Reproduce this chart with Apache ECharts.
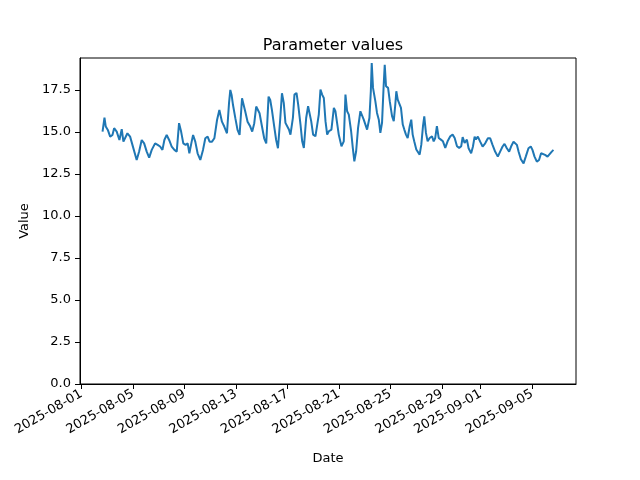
<!DOCTYPE html>
<html>
<head>
<meta charset="utf-8">
<script src="https://cdn.jsdelivr.net/npm/echarts@6/dist/echarts.min.js"></script>
<style>html,body{margin:0;padding:0;background:#fff}#c{width:640px;height:480px}</style>
</head>
<body>
<div id="c"></div>
<script>
// Days since 2025-08-01 00:00 (local time) of each reading
const dayOffsets = [
1.64,1.79,1.89,2.05,2.23,2.41,2.54,2.74,2.95,3.13,3.26,3.57,3.78,3.96,4.29,4.48,4.68,4.87,5.07,5.26,
5.46,5.72,5.92,6.11,6.29,6.44,6.62,6.81,7.01,7.22,7.40,7.58,7.74,7.91,8.09,8.25,8.38,8.56,8.67,8.84,
9.02,9.23,9.44,9.62,9.80,9.95,10.14,10.32,10.53,10.71,10.91,11.09,11.30,11.46,11.56,11.66,11.77,11.95,12.12,12.28,
12.47,12.59,12.72,12.90,13.11,13.26,13.42,13.57,13.71,13.83,14.02,14.19,14.35,14.53,14.66,14.79,14.97,15.12,15.26,15.43,
15.57,15.71,15.84,15.98,16.11,16.23,16.42,16.54,16.70,16.83,17.01,17.14,17.27,17.45,17.60,17.71,17.84,17.99,18.17,18.30,
18.43,18.56,18.69,18.82,18.95,19.08,19.21,19.41,19.60,19.72,19.85,19.98,20.19,20.37,20.50,20.63,20.76,20.94,21.07,21.19,
21.33,21.48,21.66,21.79,21.92,22.05,22.18,22.36,22.47,22.54,22.64,22.82,22.95,23.09,23.21,23.34,23.47,23.55,23.65,23.81,
23.94,24.12,24.25,24.37,24.45,24.56,24.68,24.81,24.95,25.07,25.20,25.33,25.49,25.61,25.72,25.84,26.00,26.13,26.26,26.39,
26.52,26.62,26.75,26.88,27.04,27.22,27.35,27.47,27.60,27.74,27.91,28.07,28.25,28.43,28.64,28.82,28.98,29.16,29.33,29.49,
29.60,29.75,29.93,30.06,30.26,30.40,30.53,30.63,30.78,30.96,31.15,31.35,31.56,31.74,31.92,32.12,32.33,32.51,32.70,32.85,
33.03,33.21,33.36,33.55,33.67,33.81,33.94,34.12,34.33,34.50,34.71,34.89,35.02,35.18,35.36,35.53,35.69,35.82,36.00,36.19,
36.34,36.52,36.65
];
const values = [
15.02,15.85,15.32,15.12,14.72,14.82,15.22,15.02,14.52,15.16,14.42,14.92,14.72,14.23,13.33,13.83,14.52,14.32,13.83,13.47,
13.93,14.32,14.23,14.13,13.93,14.52,14.82,14.52,14.13,13.93,13.83,15.52,15.02,14.32,14.23,14.32,13.73,14.42,14.82,14.42,
13.73,13.33,13.93,14.62,14.72,14.42,14.42,14.62,15.71,16.31,15.61,15.32,14.92,16.71,17.50,17.20,16.60,15.82,15.12,14.82,
17.00,16.90,16.21,15.61,15.32,15.02,15.52,16.51,16.51,16.11,15.32,14.62,14.32,17.10,16.90,16.31,15.32,14.52,14.03,15.71,
17.30,16.73,15.54,15.44,15.14,14.84,15.83,17.22,17.32,16.63,15.44,14.44,14.05,15.83,16.53,16.43,15.64,14.84,14.74,14.84,
16.03,17.52,17.22,17.02,15.64,14.84,15.04,15.14,16.43,16.23,15.54,14.84,14.15,14.44,17.22,16.23,16.03,15.04,14.05,13.25,
13.85,15.24,16.23,16.13,15.73,15.64,15.14,15.83,17.42,19.10,17.62,16.83,16.13,15.73,14.94,15.54,17.82,19.00,17.72,17.62,
16.83,15.93,15.64,16.63,17.42,16.92,17.02,16.43,15.44,15.14,14.84,14.64,15.34,15.73,14.84,14.44,13.95,14.05,13.65,14.24,
15.34,15.93,14.94,14.44,14.64,14.74,14.44,14.64,15.34,14.64,14.54,14.44,14.05,14.44,14.74,14.84,14.64,14.15,14.05,14.15,
14.69,14.35,14.54,14.03,13.73,14.13,14.72,14.56,14.72,14.42,14.13,14.32,14.62,14.62,14.23,13.83,13.53,13.83,14.13,14.29,
14.03,13.83,14.13,14.42,14.52,14.23,13.83,13.37,13.13,13.53,14.03,14.13,13.93,13.53,13.23,13.33,13.73,13.83,13.63,13.53,
13.57,13.83,13.93
];
const xTickLabels = ['2025-08-01','2025-08-05','2025-08-09','2025-08-13','2025-08-17','2025-08-21','2025-08-25','2025-08-29','2025-09-01','2025-09-05'];
const yTicks = [0,2.5,5,7.5,10,12.5,15,17.5];

const DAY = 86400000;
const base = new Date(2025, 7, 1).getTime();
const times = dayOffsets.map(d => base + d * DAY);
const seriesData = times.map((t, i) => [t, values[i]]);
const xTickValues = xTickLabels.map(s => { const p = s.split('-').map(Number); return new Date(p[0], p[1]-1, p[2]).getTime(); });
const span = times[times.length-1] - times[0];
const xMin = times[0] - 0.05 * span;
const xMax = times[times.length-1] + 0.05 * span;
const vMin = Math.min(...values), vMax = Math.max(...values);
const yMax = vMax + 0.05 * (vMax - vMin);

function pad(n){ return (n<10?'0':'')+n; }
function fmtDate(v){ const d = new Date(v); return d.getFullYear()+'-'+pad(d.getMonth()+1)+'-'+pad(d.getDate()); }

const FONT = 'DejaVu Sans';
const chart = echarts.init(document.getElementById('c'), null, {renderer:'canvas'});
chart.setOption({
  animation: false,
  backgroundColor: '#ffffff',
  textStyle: {fontFamily: FONT},
  title: {
    text: 'Parameter values',
    left: 328, top: 33, textAlign: 'center',
    textStyle: {fontFamily: FONT, fontSize: 16, fontWeight: 'normal', color: '#000'}
  },
  grid: {left: 80, right: 64, top: 58, bottom: 96, show: true, borderColor: '#000', borderWidth: 1, containLabel: false},
  xAxis: {
    type: 'value', min: xMin, max: xMax, scale: true,
    name: 'Date', nameLocation: 'middle', nameGap: 68,
    nameTextStyle: {fontFamily: FONT, fontSize: 13, color: '#000'},
    axisLine: {show: true, onZero: false, lineStyle: {color: '#000', width: 1}},
    axisTick: {show: true, inside: false, length: 5, lineStyle: {color: '#000'}, customValues: xTickValues},
    axisLabel: {customValues: xTickValues, formatter: fmtDate, rotate: 30, color: '#000', fontSize: 13, fontFamily: FONT, margin: 9, hideOverlap: false},
    splitLine: {show: false}, minorTick: {show: false}
  },
  yAxis: {
    type: 'value', min: 0, max: yMax,
    name: 'Value', nameLocation: 'middle', nameGap: 48,
    nameTextStyle: {fontFamily: FONT, fontSize: 13, color: '#000'},
    axisLine: {show: true, lineStyle: {color: '#000', width: 1}},
    axisTick: {show: true, inside: false, length: 5, lineStyle: {color: '#000'}, customValues: yTicks},
    axisLabel: {customValues: yTicks, formatter: v => v.toFixed(1), color: '#000', fontSize: 13, fontFamily: FONT, margin: 9},
    splitLine: {show: false}
  },
  series: [{
    type: 'line', data: seriesData, showSymbol: false, symbol: 'none',
    lineStyle: {color: '#1f77b4', width: 2}, itemStyle: {color: '#1f77b4'}
  }]
});
</script>
</body>
</html>
